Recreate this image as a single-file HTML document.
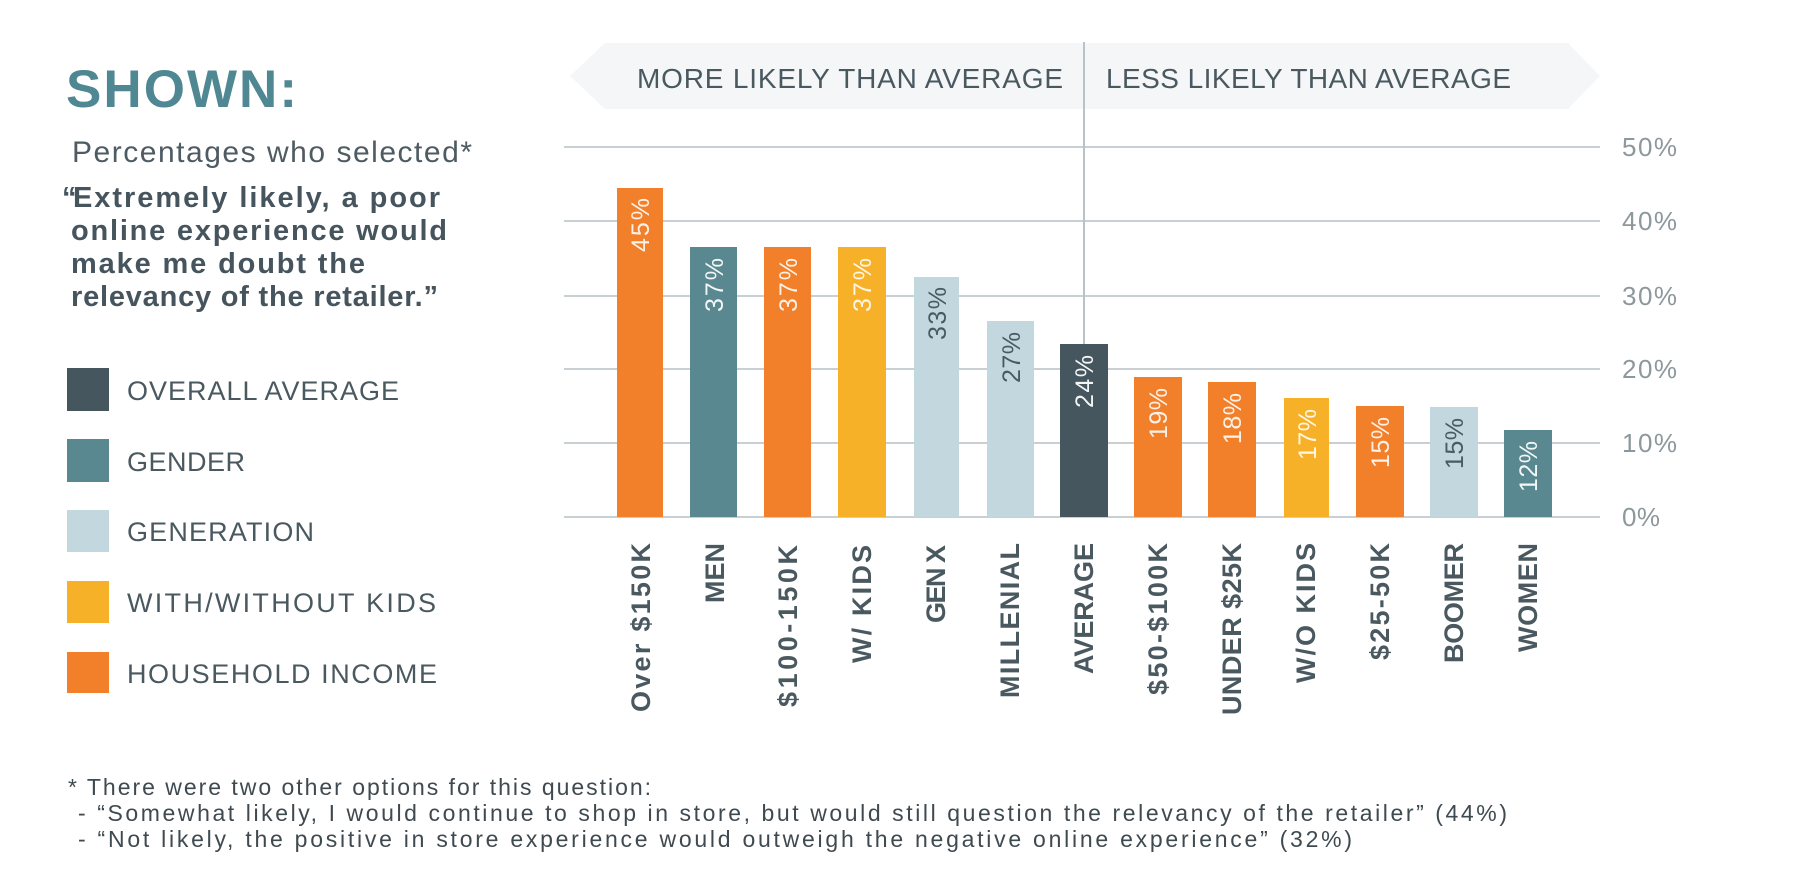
<!DOCTYPE html>
<html>
<head>
<meta charset="utf-8">
<style>
  html,body{margin:0;padding:0;background:#ffffff;}
  svg{display:block;}
  text{font-family:"Liberation Sans", Arial, sans-serif;}
</style>
</head>
<body>
<svg width="1800" height="894" viewBox="0 0 1800 894" xmlns="http://www.w3.org/2000/svg">
  <rect x="0" y="0" width="1800" height="894" fill="#ffffff"/>

  <!-- Left header -->
  <text x="66" y="107" font-size="53" font-weight="bold" fill="#4f8892" textLength="231" lengthAdjust="spacing">SHOWN:</text>
  <text x="72" y="162" font-size="30" fill="#4e5b62" textLength="400" lengthAdjust="spacing">Percentages who selected*</text>
  <text x="62" y="207" font-size="29" font-weight="bold" fill="#46555d">“</text>
  <text x="73" y="207" font-size="29" font-weight="bold" fill="#46555d" textLength="367" lengthAdjust="spacing">Extremely likely, a poor</text>
  <text x="71" y="240" font-size="29" font-weight="bold" fill="#46555d" textLength="376" lengthAdjust="spacing">online experience would</text>
  <text x="71" y="273" font-size="29" font-weight="bold" fill="#46555d" textLength="294" lengthAdjust="spacing">make me doubt the</text>
  <text x="71" y="306" font-size="29" font-weight="bold" fill="#46555d" textLength="367" lengthAdjust="spacing">relevancy of the retailer.”</text>

  <!-- Legend -->
  <rect x="67" y="368" width="42" height="43" fill="#45565f"/>
  <rect x="67" y="439" width="42" height="43" fill="#5a8890"/>
  <rect x="67" y="510" width="42" height="42" fill="#c2d8de"/>
  <rect x="67" y="581" width="42" height="42" fill="#f7b129"/>
  <rect x="67" y="652" width="42" height="41" fill="#f27f2a"/>
  <g font-size="27" fill="#4a5960">
    <text x="127" y="400" textLength="272" lengthAdjust="spacing">OVERALL AVERAGE</text>
    <text x="127" y="471" textLength="118" lengthAdjust="spacing">GENDER</text>
    <text x="127" y="541" textLength="187" lengthAdjust="spacing">GENERATION</text>
    <text x="127" y="612" textLength="309" lengthAdjust="spacing">WITH/WITHOUT KIDS</text>
    <text x="127" y="683" textLength="310" lengthAdjust="spacing">HOUSEHOLD INCOME</text>
  </g>

  <!-- Banner -->
  <polygon points="570,76 605,43 1568,43 1600,76 1568,109 605,109" fill="#f4f6f8"/>
  <text x="637" y="88" font-size="28" fill="#4a5960" textLength="426" lengthAdjust="spacing">MORE LIKELY THAN AVERAGE</text>
  <text x="1106" y="88" font-size="28" fill="#4a5960" textLength="405" lengthAdjust="spacing">LESS LIKELY THAN AVERAGE</text>

  <!-- Gridlines -->
  <g stroke="#c9d0d4" stroke-width="2">
    <line x1="564" y1="147" x2="1600" y2="147"/>
    <line x1="564" y1="221" x2="1600" y2="221"/>
    <line x1="564" y1="296" x2="1600" y2="296"/>
    <line x1="564" y1="369" x2="1600" y2="369"/>
    <line x1="564" y1="443" x2="1600" y2="443"/>
    <line x1="564" y1="517" x2="1600" y2="517"/>
  </g>
  <!-- divider -->
  <line x1="1084" y1="42" x2="1084" y2="517" stroke="#b9c2c7" stroke-width="2"/>

  <!-- Y labels -->
  <g font-size="26" fill="#8d989d">
    <text x="1622" y="156" textLength="55" lengthAdjust="spacing">50%</text>
    <text x="1622" y="230" textLength="55" lengthAdjust="spacing">40%</text>
    <text x="1622" y="305" textLength="55" lengthAdjust="spacing">30%</text>
    <text x="1622" y="378" textLength="55" lengthAdjust="spacing">20%</text>
    <text x="1622" y="452" textLength="55" lengthAdjust="spacing">10%</text>
    <text x="1622" y="526" textLength="38" lengthAdjust="spacing">0%</text>
  </g>

  <!-- Bars -->
  <rect x="617" y="188" width="46" height="329" fill="#f27f2a"/>
  <rect x="690" y="247" width="47" height="270" fill="#5a8890"/>
  <rect x="764" y="247" width="47" height="270" fill="#f27f2a"/>
  <rect x="838" y="247" width="48" height="270" fill="#f7b129"/>
  <rect x="914" y="277" width="45" height="240" fill="#c2d8de"/>
  <rect x="987" y="321" width="47" height="196" fill="#c2d8de"/>
  <rect x="1060" y="344" width="48" height="173" fill="#45565f"/>
  <rect x="1134" y="377" width="48" height="140" fill="#f27f2a"/>
  <rect x="1208" y="382" width="48" height="135" fill="#f27f2a"/>
  <rect x="1284" y="398" width="45" height="119" fill="#f7b129"/>
  <rect x="1356" y="406" width="48" height="111" fill="#f27f2a"/>
  <rect x="1430" y="407" width="48" height="110" fill="#c2d8de"/>
  <rect x="1504" y="430" width="48" height="87" fill="#5a8890"/>

  <!-- Bar value labels (rotated) -->
  <g font-size="25" text-anchor="end">
    <text transform="translate(649,198) rotate(-90)" fill="#fdf1e6" textLength="54" lengthAdjust="spacing">45%</text>
    <text transform="translate(723,258) rotate(-90)" fill="#f3f6f7" textLength="54" lengthAdjust="spacing">37%</text>
    <text transform="translate(797,258) rotate(-90)" fill="#fdf1e6" textLength="54" lengthAdjust="spacing">37%</text>
    <text transform="translate(871,258) rotate(-90)" fill="#fff6e4" textLength="54" lengthAdjust="spacing">37%</text>
    <text transform="translate(946,287) rotate(-90)" fill="#4a5a62" textLength="53" lengthAdjust="spacing">33%</text>
    <text transform="translate(1020,332) rotate(-90)" fill="#4a5a62" textLength="51" lengthAdjust="spacing">27%</text>
    <text transform="translate(1093,355) rotate(-90)" fill="#f3f6f7" textLength="53" lengthAdjust="spacing">24%</text>
    <text transform="translate(1167,388) rotate(-90)" fill="#fdf1e6" textLength="51" lengthAdjust="spacing">19%</text>
    <text transform="translate(1241,393) rotate(-90)" fill="#fdf1e6" textLength="51" lengthAdjust="spacing">18%</text>
    <text transform="translate(1316,409) rotate(-90)" fill="#fff6e4" textLength="51" lengthAdjust="spacing">17%</text>
    <text transform="translate(1389,417) rotate(-90)" fill="#fdf1e6" textLength="51" lengthAdjust="spacing">15%</text>
    <text transform="translate(1463,418) rotate(-90)" fill="#4a5a62" textLength="51" lengthAdjust="spacing">15%</text>
    <text transform="translate(1537,441) rotate(-90)" fill="#f3f6f7" textLength="51" lengthAdjust="spacing">12%</text>
  </g>

  <!-- X labels (rotated) -->
  <g font-size="27" font-weight="bold" fill="#4a5960" text-anchor="end">
    <text transform="translate(650,543) rotate(-90)" textLength="169" lengthAdjust="spacing">Over $150K</text>
    <text transform="translate(724,543) rotate(-90)" textLength="60" lengthAdjust="spacing">MEN</text>
    <text transform="translate(797,545) rotate(-90)" textLength="162" lengthAdjust="spacing">$100-150K</text>
    <text transform="translate(871,545) rotate(-90)" textLength="118" lengthAdjust="spacing">W/ KIDS</text>
    <text transform="translate(945,545) rotate(-90)" textLength="78" lengthAdjust="spacing">GEN X</text>
    <text transform="translate(1019,543) rotate(-90)" textLength="155" lengthAdjust="spacing">MILLENIAL</text>
    <text transform="translate(1093,543) rotate(-90)" textLength="131" lengthAdjust="spacing">AVERAGE</text>
    <text transform="translate(1167,543) rotate(-90)" textLength="152" lengthAdjust="spacing">$50-$100K</text>
    <text transform="translate(1241,543) rotate(-90)" textLength="172" lengthAdjust="spacing">UNDER $25K</text>
    <text transform="translate(1315,543) rotate(-90)" textLength="140" lengthAdjust="spacing">W/O KIDS</text>
    <text transform="translate(1389,543) rotate(-90)" textLength="117" lengthAdjust="spacing">$25-50K</text>
    <text transform="translate(1463,543) rotate(-90)" textLength="120" lengthAdjust="spacing">BOOMER</text>
    <text transform="translate(1537,543) rotate(-90)" textLength="109" lengthAdjust="spacing">WOMEN</text>
  </g>

  <!-- Footnote -->
  <g font-size="23" fill="#3f4a50">
    <text x="68" y="795" textLength="583" lengthAdjust="spacing">* There were two other options for this question:</text>
    <text x="78" y="821" textLength="1429" lengthAdjust="spacing">- “Somewhat likely, I would continue to shop in store, but would still question the relevancy of the retailer” (44%)</text>
    <text x="78" y="847" textLength="1274" lengthAdjust="spacing">- “Not likely, the positive in store experience would outweigh the negative online experience” (32%)</text>
  </g>
</svg>
</body>
</html>
